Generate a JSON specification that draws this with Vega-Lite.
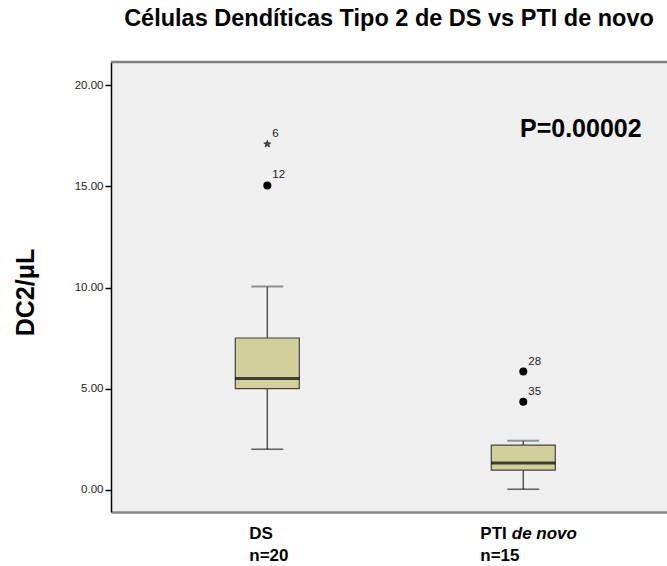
{
  "$schema": "https://vega.github.io/schema/vega-lite/v6.json",
  "width": 556,
  "height": 450,
  "autosize": {"type": "none"},
  "padding": {"left": 111, "top": 62, "right": 0, "bottom": 54},
  "background": "white",
  "config": {"view": {"stroke": null, "fill": "#EFEFEF"}, "font": "Liberation Sans"},
  "title": {
    "text": "Células Dendíticas Tipo 2 de DS vs PTI de novo",
    "fontSize": 23.5, "fontWeight": "bold", "font": "Liberation Sans", "color": "black",
    "anchor": "middle", "baseline": "alphabetic", "offset": 11
  },
  "datasets": {
    "stats": [
      {"group": "DS", "lower": 2.0, "q1": 5.0, "median": 5.5, "q3": 7.5, "upper": 10.05, "lines": ["DS", "n=20"]},
      {"group": "PTI de novo", "lower": 0.02, "q1": 0.96, "median": 1.32, "q3": 2.2, "upper": 2.42, "lines": ["PTI", "n=15"]}
    ],
    "outliers": [
      {"group": "DS", "value": 17.1, "case": "6", "kind": "extreme"},
      {"group": "DS", "value": 15.05, "case": "12", "kind": "outlier"},
      {"group": "PTI de novo", "value": 5.84, "case": "28", "kind": "outlier"},
      {"group": "PTI de novo", "value": 4.35, "case": "35", "kind": "outlier"}
    ],
    "annot": [{"group": "PTI de novo", "label": "P=0.00002", "italic": "de novo"}]
  },
  "layer": [
    {
      "data": {"name": "stats"},
      "mark": {"type": "rule", "color": "#555555", "strokeWidth": 1.5},
      "encoding": {
        "x": {"field": "group", "type": "nominal",
          "scale": {"type": "point", "domain": ["DS", "PTI de novo"], "padding": 0.586, "align": 0.521},
          "axis": {"title": null, "labels": false, "ticks": false, "domainColor": "#888888", "domainWidth": 2.5}},
        "y": {"field": "lower", "type": "quantitative",
          "scale": {"domain": [-1.11, 21.16], "nice": false, "zero": false},
          "axis": {"title": "DC2/μL", "titleFontSize": 25, "titleFontWeight": "bold", "titleColor": "black",
            "titleX": -78, "titleY": 230, "titleAngle": -90, "titleBaseline": "alphabetic", "titleAlign": "center",
            "values": [0, 5, 10, 15, 20], "format": ".2f", "labelFontSize": 11.5, "labelColor": "#222222",
            "labelPadding": 2, "tickSize": 6, "tickWidth": 1.5, "tickColor": "black",
            "domainColor": "black", "domainWidth": 1.5, "grid": false}},
        "y2": {"field": "upper"}
      }
    },
    {
      "data": {"name": "stats"},
      "mark": {"type": "tick", "color": "#6a6a6a", "size": 32, "thickness": 2},
      "encoding": {
        "x": {"field": "group", "type": "nominal"},
        "y": {"field": "upper", "type": "quantitative"}
      }
    },
    {
      "data": {"name": "stats"},
      "mark": {"type": "tick", "color": "#222222", "size": 32, "thickness": 1.5},
      "encoding": {
        "x": {"field": "group", "type": "nominal"},
        "y": {"field": "lower", "type": "quantitative"}
      }
    },
    {
      "data": {"name": "stats"},
      "mark": {"type": "bar", "width": 64, "fill": "#D3CF9B", "stroke": "#444444", "strokeWidth": 1.2},
      "encoding": {
        "x": {"field": "group", "type": "nominal"},
        "y": {"field": "q1", "type": "quantitative"},
        "y2": {"field": "q3"}
      }
    },
    {
      "data": {"name": "stats"},
      "mark": {"type": "tick", "color": "black", "size": 64, "thickness": 3},
      "encoding": {
        "x": {"field": "group", "type": "nominal"},
        "y": {"field": "median", "type": "quantitative"}
      }
    },
    {
      "data": {"name": "outliers"},
      "transform": [{"filter": "datum.kind === 'outlier'"}],
      "mark": {"type": "point", "filled": true, "color": "black", "size": 64, "opacity": 1},
      "encoding": {
        "x": {"field": "group", "type": "nominal"},
        "y": {"field": "value", "type": "quantitative"}
      }
    },
    {
      "data": {"name": "outliers"},
      "transform": [{"filter": "datum.kind === 'extreme'"}],
      "mark": {"type": "point", "filled": true, "color": "#444444", "stroke": "#333333", "strokeWidth": 0.8, "size": 55, "opacity": 1,
        "shape": "M0,-1L0.24,-0.33L0.95,-0.31L0.39,0.13L0.59,0.81L0,0.41L-0.59,0.81L-0.39,0.13L-0.95,-0.31L-0.24,-0.33Z"},
      "encoding": {
        "x": {"field": "group", "type": "nominal"},
        "y": {"field": "value", "type": "quantitative"}
      }
    },
    {
      "data": {"name": "outliers"},
      "mark": {"type": "text", "align": "left", "baseline": "middle", "dx": 5, "dy": -10, "fontSize": 11.5, "color": "#222222"},
      "encoding": {
        "x": {"field": "group", "type": "nominal"},
        "y": {"field": "value", "type": "quantitative"},
        "text": {"field": "case"}
      }
    },
    {
      "data": {"name": "annot"},
      "mark": {"type": "text", "align": "center", "baseline": "alphabetic", "dx": 57.5, "fontSize": 25, "fontWeight": "bold", "color": "black"},
      "encoding": {
        "x": {"field": "group", "type": "nominal"},
        "y": {"datum": 17.45},
        "text": {"field": "label"}
      }
    },
    {
      "data": {"name": "stats"},
      "transform": [{"filter": "datum.group === 'DS'"}],
      "mark": {"type": "text", "align": "left", "baseline": "alphabetic", "dx": -18, "fontSize": 17, "fontWeight": "bold", "lineHeight": 22, "color": "black"},
      "encoding": {
        "x": {"field": "group", "type": "nominal"},
        "y": {"datum": -2.45},
        "text": {"field": "lines"}
      }
    },
    {
      "data": {"name": "stats"},
      "transform": [{"filter": "datum.group === 'PTI de novo'"}],
      "mark": {"type": "text", "align": "left", "baseline": "alphabetic", "dx": -43, "fontSize": 17, "fontWeight": "bold", "lineHeight": 22, "color": "black"},
      "encoding": {
        "x": {"field": "group", "type": "nominal"},
        "y": {"datum": -2.45},
        "text": {"field": "lines"}
      }
    },
    {
      "data": {"name": "annot"},
      "mark": {"type": "text", "align": "left", "baseline": "alphabetic", "dx": -11.5, "fontSize": 17, "fontWeight": "bold", "fontStyle": "italic", "color": "black"},
      "encoding": {
        "x": {"field": "group", "type": "nominal"},
        "y": {"datum": -2.45},
        "text": {"field": "italic"}
      }
    },
    {
      "data": {"name": "annot"},
      "mark": {"type": "rule", "color": "#808080", "strokeWidth": 2.5},
      "encoding": {"y": {"datum": 21.16}}
    }
  ]
}
